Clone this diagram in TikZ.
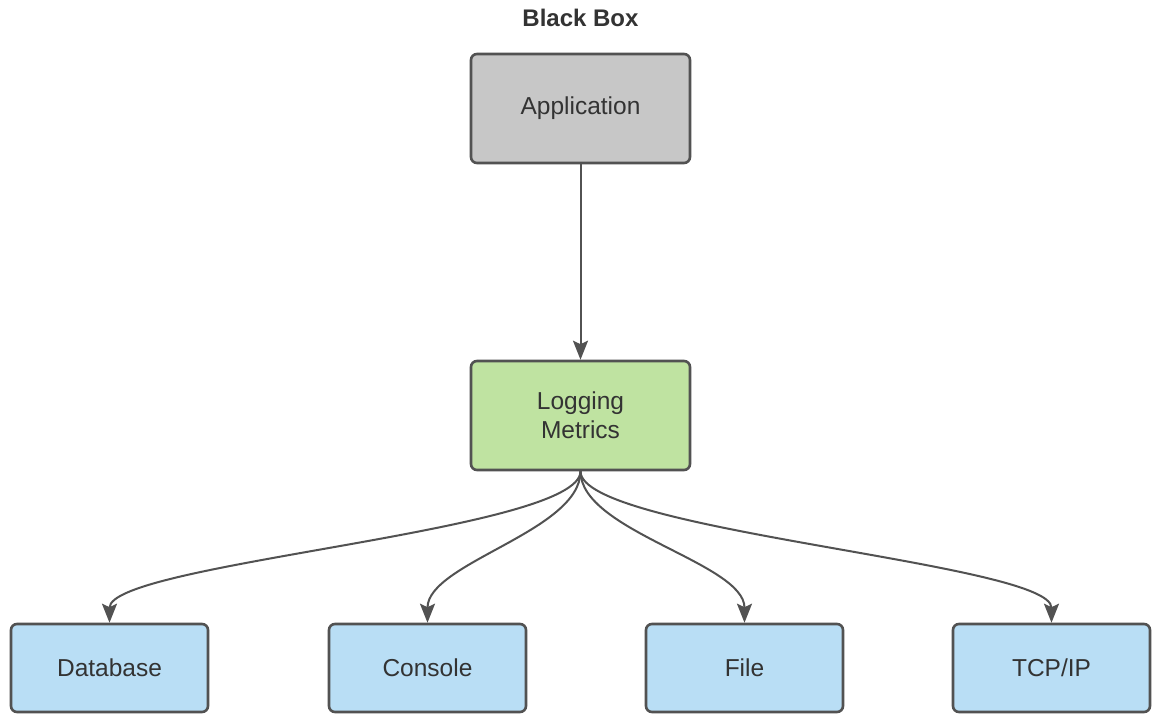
\documentclass[tikz,border=0pt]{standalone}
\usepackage{fontspec}
\setmainfont{Liberation Sans}
\usetikzlibrary{arrows.meta}
\definecolor{edgegray}{HTML}{525252}
\definecolor{txtgray}{HTML}{333333}
\definecolor{appfill}{HTML}{C7C7C7}
\definecolor{logfill}{HTML}{BFE3A1}
\definecolor{sinkfill}{HTML}{B9DEF5}
\begin{document}
\begin{tikzpicture}[x=1pt,y=-1pt,
  box/.style={draw=edgegray,line width=2.6pt,rounded corners=6pt,
    inner sep=0pt,align=center,text=txtgray,
    font=\fontsize{24.5}{29}\selectfont},
  bigbox/.style={box,minimum width=219pt,minimum height=109pt},
  sinkbox/.style={box,fill=sinkfill,minimum width=197pt,minimum height=88pt},
  flow/.style={draw=edgegray,line width=2pt,
    -{Stealth[length=19pt,width=15pt,inset=3.5pt]}}]
  \useasboundingbox (0,0) rectangle (1162,719);
  \fill[white] (0,0) rectangle (1162,719);

  % title
  \node[font=\bfseries\fontsize{24}{28}\selectfont,text=txtgray] (title) at (580.5,18) {Black Box};

  % source and router
  \node[bigbox,fill=appfill] (app) at (580.5,108.5) {Application};
  \node[bigbox,fill=logfill] (log) at (580.5,415.5) {Logging\\Metrics};

  % outputs
  \node[sinkbox] (db)   at (109.5,668) {Database};
  \node[sinkbox] (con)  at (427.5,668) {Console};
  \node[sinkbox] (file) at (744.5,668) {File};
  \node[sinkbox] (tcp)  at (1051.5,668) {TCP/IP};

  % connectors
  \draw[flow] (app.south) -- (log.north);
  \draw[flow] (log.south) .. controls +(0,60) and +(0,-60) .. (db.north);
  \draw[flow] (log.south) .. controls +(0,60) and +(0,-60) .. (con.north);
  \draw[flow] (log.south) .. controls +(0,60) and +(0,-60) .. (file.north);
  \draw[flow] (log.south) .. controls +(0,60) and +(0,-60) .. (tcp.north);
\end{tikzpicture}
\end{document}
